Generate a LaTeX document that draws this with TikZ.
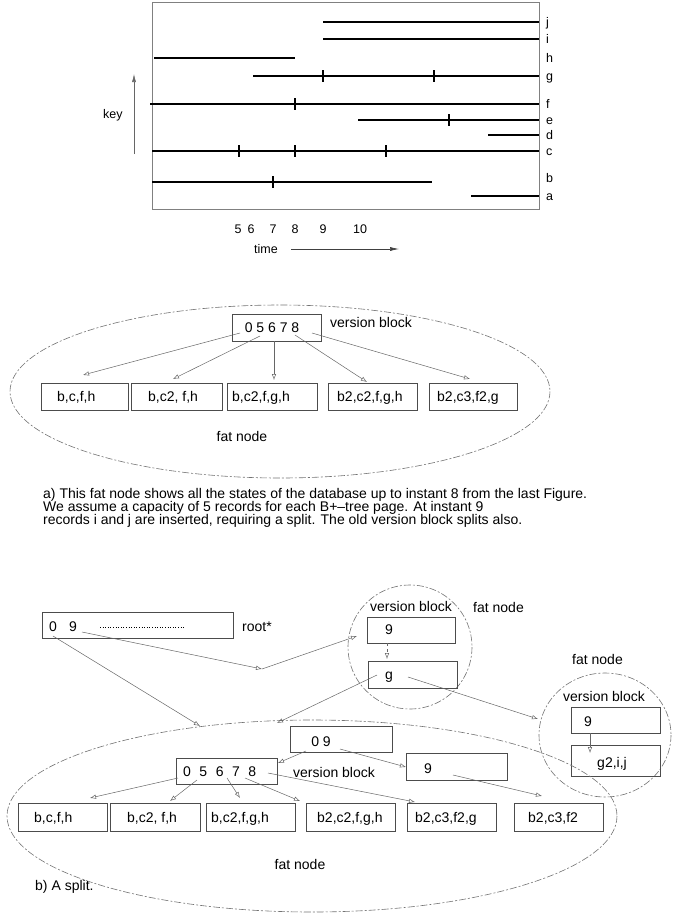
\documentclass[tikz,border=0pt]{standalone}
\usepackage{fontspec}
\setmainfont{Liberation Sans}
\usetikzlibrary{arrows.meta}
\begin{document}
\begin{tikzpicture}[x=1pt,y=-1pt,
  bar/.style={line width=2.7pt},
  tickmark/.style={line width=2.7pt},
  lbl/.style={font=\fontsize{12.5}{14}\selectfont, inner sep=0pt, anchor=base west},
  txt/.style={font=\fontsize{14}{16}\selectfont, inner sep=0pt, anchor=base west},
  box/.style={draw=black!70, line width=0.6pt, rectangle, inner sep=0pt},
  fat/.style={draw=black!55, line width=0.6pt, dash pattern=on 7pt off 2pt on 2pt off 2pt},
  arr/.style={draw=black!60, line width=0.5pt, -{Latex[open,length=6pt,width=4.5pt]}},
]
\useasboundingbox (0,0) rectangle (675,916);

% ---------------- chart ----------------
\draw[black!50, line width=0.6pt] (152,2) rectangle (539,209);
\draw[bar] (323,22) -- (539,22);
\draw[bar] (323,39) -- (539,39);
\draw[bar] (154,58) -- (295,58);
\draw[bar] (253,76) -- (539,76);
\draw[tickmark] (323,70) -- (323,82);
\draw[tickmark] (434,70) -- (434,82);
\draw[bar] (150,104) -- (539,104);
\draw[tickmark] (295,98) -- (295,110);
\draw[bar] (358,120) -- (539,120);
\draw[tickmark] (449,114) -- (449,126);
\draw[bar] (488,135) -- (539,135);
\draw[bar] (152,151) -- (539,151);
\draw[tickmark] (239,145) -- (239,157);
\draw[tickmark] (295,145) -- (295,157);
\draw[tickmark] (386,145) -- (386,157);
\draw[bar] (152,182) -- (432,182);
\draw[tickmark] (273,176) -- (273,188);
\draw[bar] (471,196) -- (539,196);

\foreach \l/\y in {j/26,i/43,h/62,g/80,f/108,e/124,d/139,c/155,b/182,a/200}
  \node[lbl] (lab\l) at (546,\y) {\l};

\foreach \t/\x in {5/238,6/251,7/273,8/295,9/323,10/360}
  \node[lbl, anchor=base] (t\t) at (\x,233) {\t};

\node[lbl, anchor=base] (timelbl) at (266,253) {time};
\coordinate (tarr0) at (291,249);
\coordinate (tarr1) at (399,249);
\draw[black!75, line width=0.6pt, -{Latex[length=9pt,width=4pt]}] (tarr0) -- (tarr1);

\node[lbl] (keylbl) at (103,118) {key};
\coordinate (karr0) at (134,154);
\coordinate (karr1) at (134,74);
\draw[black!60, line width=0.6pt, -{Latex[length=8pt,width=4pt]}] (karr0) -- (karr1);

% ---------------- part a ----------------
\draw[fat] (280,391.5) ellipse [x radius=270, y radius=86.5];
\node[box, minimum width=89pt, minimum height=27pt] (va) at (276.5,327.5) {};
\node[txt, anchor=base] (vatxt) at (272,332) {0 5 6 7 8};
\node[txt] (vblbl) at (330,327) {version block};

\node[box, minimum width=87pt, minimum height=27pt] (la1) at (84.5,396.5) {};
\node[box, minimum width=91pt, minimum height=27pt] (la2) at (176.5,396.5) {};
\node[box, minimum width=90pt, minimum height=27pt] (la3) at (272,396.5) {};
\node[box, minimum width=89pt, minimum height=27pt] (la4) at (372.5,396.5) {};
\node[box, minimum width=88pt, minimum height=27pt] (la5) at (473,396.5) {};
\node[txt] at (57,401) {b,c,f,h};
\node[txt] at (148,401) {b,c2, f,h};
\node[txt] at (232,401) {b,c2,f,g,h};
\node[txt] at (337,401) {b2,c2,f,g,h};
\node[txt] at (437,401) {b2,c3,f2,g};

\coordinate (as1) at (240,333); \coordinate (ae1) at (83,375);
\coordinate (as2) at (260,336); \coordinate (ae2) at (173,379);
\coordinate (as3) at (274,341); \coordinate (ae3) at (274,380);
\coordinate (as4) at (295,335); \coordinate (ae4) at (367,382);
\coordinate (as5) at (312,333); \coordinate (ae5) at (470,379);
\foreach \i in {1,...,5} \draw[arr] (as\i) -- (ae\i);

\node[txt, anchor=base] (fata) at (242,441) {fat node};

\node[txt] (capa1) at (43,498) {a) This fat node shows all the states of the database up to instant 8 from the last Figure.};
\node[txt] (capa2) at (43,511) {We assume a capacity of 5 records for each B+--tree page. At instant 9};
\node[txt] (capa3) at (43,524) {records i and j are inserted, requiring a split. The old version block splits also.};

% ---------------- part b ----------------
\node[box, minimum width=191pt, minimum height=26pt] (root) at (137.5,625) {};
\node[txt, anchor=base] (r0) at (53,631) {0};
\node[txt, anchor=base] (r9) at (73,631) {9};
\draw[line width=0.8pt, dash pattern=on 1pt off 1.6pt] (100,627) -- (185,627);
\node[txt] (rootlbl) at (242,631) {root*};

% circle 1
\draw[fat] (410,647) circle [radius=62];
\node[txt] (vb1) at (370,611) {version block};
\node[txt] (fat1) at (473,612) {fat node};
\node[box, minimum width=88pt, minimum height=26pt] (c1v) at (411,630) {};
\node[txt, anchor=base] at (389,634) {9};
\node[box, minimum width=89pt, minimum height=27pt] (c1g) at (412.5,674.5) {};
\node[txt, anchor=base] at (389,679) {g};
\draw[arr, dashed] (387,643) -- (387,659);

% circle 2
\draw[fat] (605,735) ellipse [x radius=66, y radius=62];
\node[txt] (fat2) at (572,664) {fat node};
\node[txt] (vb2) at (563,701) {version block};
\node[box, minimum width=89pt, minimum height=26pt] (c2v) at (615.5,720) {};
\node[txt, anchor=base] at (588,726) {9};
\node[box, minimum width=89pt, minimum height=31pt] (c2g) at (615.5,760.5) {};
\node[txt, anchor=base] at (612,767) {g2,i,j};
\draw[arr] (590,733) -- (590,753);

% big ellipse
\draw[fat] (312,816) ellipse [x radius=305, y radius=96];

\node[box, minimum width=102pt, minimum height=26pt] (b09) at (341,739) {};
\node[txt, anchor=base] at (321,746) {0 9};
\node[box, minimum width=101pt, minimum height=26pt] (bvb) at (226.5,771) {};
\node[txt, anchor=base west] at (183,776) {0\hspace{8.5pt}5\hspace{8.5pt}6\hspace{8.5pt}7\hspace{8.5pt}8};
\node[txt] (vb3) at (293,777) {version block};
\node[box, minimum width=101pt, minimum height=27pt] (b9) at (456.5,766.5) {};
\node[txt, anchor=base] at (428,773) {9};

\node[box, minimum width=89pt, minimum height=28pt] (lb1) at (62.5,817) {};
\node[box, minimum width=90pt, minimum height=28pt] (lb2) at (155,817) {};
\node[box, minimum width=89pt, minimum height=28pt] (lb3) at (250.5,817) {};
\node[box, minimum width=89pt, minimum height=28pt] (lb4) at (350.5,817) {};
\node[box, minimum width=89pt, minimum height=28pt] (lb5) at (451.5,817) {};
\node[box, minimum width=89pt, minimum height=28pt] (lb6) at (558.5,817) {};
\node[txt] at (34,822) {b,c,f,h};
\node[txt] at (127,822) {b,c2, f,h};
\node[txt] at (211,822) {b,c2,f,g,h};
\node[txt] at (317,822) {b2,c2,f,g,h};
\node[txt] at (415,822) {b2,c3,f2,g};
\node[txt] at (528,822) {b2,c3,f2};

\node[txt, anchor=base] (fatb) at (300,869) {fat node};
\node[txt] (capb) at (35,890) {b) A split.};

% connectors part b
\coordinate (m) at (262,669);
\coordinate (rs0) at (53,636);   \coordinate (re0) at (200,726);
\coordinate (rs9) at (82,632);   \coordinate (c1in) at (357,636);
\coordinate (gs1) at (377,675);  \coordinate (ge1) at (277,723);
\coordinate (gs2) at (408,677);  \coordinate (ge2) at (538,719);
\draw[arr] (rs0) -- (re0);
\draw[arr] (rs9) -- (m);
\draw[arr] (m) -- (c1in);
\draw[arr] (gs1) -- (ge1);
\draw[arr] (gs2) -- (ge2);

\coordinate (bs0) at (306,751);  \coordinate (be0) at (278,763);
\coordinate (bs9) at (340,749);  \coordinate (be9) at (406,767);
\coordinate (bs10) at (453,775); \coordinate (be10) at (542,796);
\draw[arr] (bs0) -- (be0);
\draw[arr] (bs9) -- (be9);
\draw[arr] (bs10) -- (be10);

\coordinate (bv1) at (178,778); \coordinate (bl1) at (90,798);
\coordinate (bv2) at (197,780); \coordinate (bl2) at (170,801);
\coordinate (bv3) at (227,778); \coordinate (bl3) at (240,798);
\coordinate (bv4) at (245,778); \coordinate (bl4) at (300,801);
\coordinate (bv5) at (268,773); \coordinate (bl5) at (415,802);
\foreach \i in {1,...,5} \draw[arr] (bv\i) -- (bl\i);
\end{tikzpicture}
\end{document}
